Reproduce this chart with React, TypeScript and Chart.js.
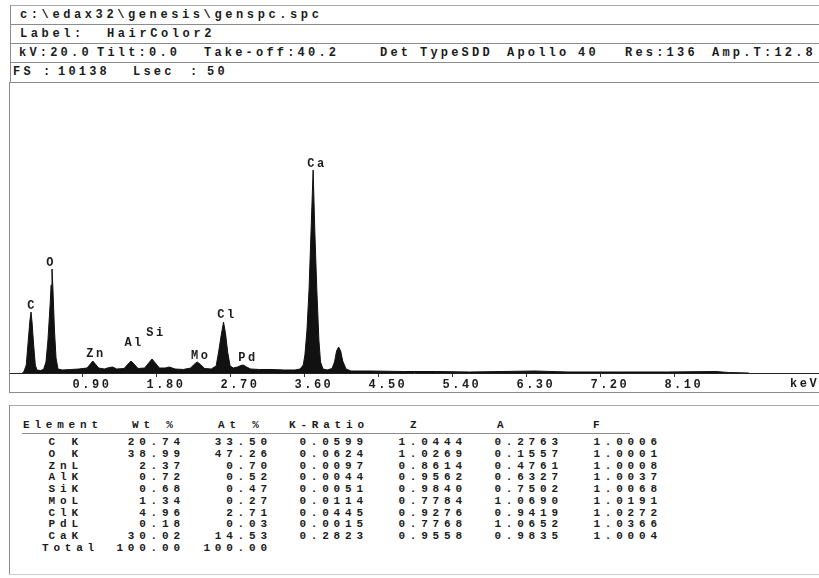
import React, { useEffect, useRef } from "react";
import { Chart, registerables } from "chart.js";

Chart.register(...registerables);

// ---------- data ----------
const fullScale = 10138;
const xMaxKeV = 9.854;

const spectrumKeV = [
  0.16, 0.18, 0.21, 0.23, 0.255, 0.268, 0.28, 0.3, 0.32, 0.34, 0.38, 0.42, 0.45, 0.474, 0.5, 0.512, 0.523,
  0.535, 0.553, 0.572, 0.596, 0.65, 0.75, 0.85, 0.95, 0.99, 1.02, 1.05, 1.09, 1.16, 1.22, 1.26, 1.31, 1.4,
  1.45, 1.485, 1.52, 1.57, 1.65, 1.7, 1.74, 1.78, 1.83, 1.9, 1.95, 2.02, 2.12, 2.21, 2.25, 2.29, 2.33, 2.38,
  2.46, 2.52, 2.55, 2.58, 2.61, 2.635, 2.66, 2.69, 2.73, 2.78, 2.82, 2.85, 2.89, 2.94, 3.05, 3.2, 3.35, 3.48,
  3.54, 3.58, 3.6, 3.625, 3.65, 3.675, 3.7, 3.72, 3.745, 3.77, 3.79, 3.82, 3.87, 3.93, 3.96, 3.985, 4.01,
  4.035, 4.06, 4.1, 4.16, 4.4, 4.8, 5.2, 5.6, 6.0, 6.4, 6.8, 7.4, 8.0, 8.6, 8.75, 9.0,
];
const spectrumCounts = [
  0, 35, 279, 976, 1846, 2125, 1777, 976, 279, 105, 87, 122, 383, 1150, 2369, 3066, 3623,
  2892, 1498, 523, 139, 105, 122, 139, 174, 314, 418, 314, 174, 139, 192, 209, 139, 157,
  314, 418, 314, 157, 174, 348, 488, 348, 174, 174, 209, 139, 122, 174, 296, 383, 296, 157,
  139, 244, 732, 1289, 1777, 1359, 732, 244, 174, 209, 261, 279, 209, 139, 122, 122, 105, 105,
  139, 279, 627, 1498, 2892, 4982, 7072, 4982, 2892, 1150, 383, 139, 105, 157, 383, 766, 906,
  766, 418, 139, 70, 70, 52, 52, 35, 52, 70, 35, 35, 35, 52, 17, 0,
];

const tickValues = [0.9, 1.8, 2.7, 3.6, 4.5, 5.4, 6.3, 7.2, 8.1];

const peakNames = ["C", "O", "Zn", "Al", "Si", "Mo", "Cl", "Pd", "Ca"];
const peakLabelKeV = [0.268, 0.499, 1.046, 1.51, 1.776, 2.32, 2.64, 2.895, 3.735];
const peakLabelCounts = [2334, 3832, 662, 1045, 1411, 592, 2021, 523, 7281];

const tableElements = ["C K", "O K", "ZnL", "AlK", "SiK", "MoL", "ClK", "PdL", "CaK"];
const tableWt = ["20.74", "38.99", "2.37", "0.72", "0.68", "1.34", "4.96", "0.18", "30.02"];
const tableAt = ["33.50", "47.26", "0.70", "0.52", "0.47", "0.27", "2.71", "0.03", "14.53"];
const tableKRatio = ["0.0599", "0.0624", "0.0097", "0.0044", "0.0051", "0.0114", "0.0445", "0.0015", "0.2823"];
const tableZ = ["1.0444", "1.0269", "0.8614", "0.9562", "0.9840", "0.7784", "0.9276", "0.7768", "0.9558"];
const tableA = ["0.2763", "0.1557", "0.4761", "0.6327", "0.7502", "1.0690", "0.9419", "1.0652", "0.9835"];
const tableF = ["1.0006", "1.0001", "1.0008", "1.0037", "1.0068", "1.0191", "1.0272", "1.0366", "1.0004"];
const tableTotal = ["Total", "100.00", "100.00"];

// ---------- styling helpers ----------
const MONO = "'Liberation Mono', 'Courier New', monospace";
const INK = "#1c1c1c";
const LINE = "#8c8c8c";

type TProps = { x: number; y: number; children: React.ReactNode; size?: number; ls?: number; align?: "left" | "right" };
function T({ x, y, children, size = 12, ls = 3.2, align = "left" }: TProps) {
  const style: React.CSSProperties = {
    position: "absolute",
    top: y - 8,
    height: 16,
    lineHeight: "16px",
    fontFamily: MONO,
    fontSize: size,
    fontWeight: "bold",
    letterSpacing: ls,
    color: INK,
    whiteSpace: "pre",
  };
  if (align === "left") style.left = x;
  else style.right = 819 - (x + ls);
  return <span style={style}>{children}</span>;
}

function HLine({ y, x1, x2, color = LINE }: { y: number; x1: number; x2: number; color?: string }) {
  return <div style={{ position: "absolute", left: x1, top: y, width: x2 - x1, height: 1, background: color }} />;
}
function VLine({ x, y1, y2, color = LINE }: { x: number; y1: number; y2: number; color?: string }) {
  return <div style={{ position: "absolute", left: x, top: y1, width: 1, height: y2 - y1, background: color }} />;
}

function Spectrum() {
  const ref = useRef<HTMLCanvasElement | null>(null);
  useEffect(() => {
    if (!ref.current) return;
    const labelPlugin = {
      id: "peakLabels",
      beforeDraw(chart: any) {
        chart.ctx.letterSpacing = "2.5px";
      },
      afterDatasetsDraw(chart: any) {
        const { ctx, scales } = chart;
        ctx.save();
        ctx.font = `bold 12px ${MONO}`;
        ctx.letterSpacing = "2.5px";
        ctx.fillStyle = INK;
        ctx.textAlign = "center";
        ctx.textBaseline = "middle";
        peakNames.forEach((n, i) => {
          const x = scales.x.getPixelForValue(peakLabelKeV[i]);
          const y = scales.y.getPixelForValue(peakLabelCounts[i]);
          ctx.fillText(n, x + 1, y);
        });
        ctx.restore();
      },
    };
    const chart = new Chart(ref.current, {
      type: "line",
      data: {
        datasets: [
          {
            data: spectrumKeV.map((k, i) => ({ x: k, y: spectrumCounts[i] })),
            borderColor: "#111",
            backgroundColor: "#111",
            borderWidth: 1,
            fill: "origin",
            pointRadius: 0,
            tension: 0,
          },
        ],
      },
      options: {
        animation: false,
        responsive: false,
        maintainAspectRatio: false,
        layout: { padding: 0 },
        plugins: { legend: { display: false }, tooltip: { enabled: false } },
        scales: {
          x: {
            type: "linear",
            min: 0,
            max: xMaxKeV,
            afterBuildTicks: (s: any) => {
              s.ticks = tickValues.map((v) => ({ value: v }));
            },
            afterFit: (s: any) => {
              s.height = 19;
            },
            ticks: {
              autoSkip: false,
              maxRotation: 0,
              labelOffset: 9,
              padding: 1,
              color: INK,
              font: { family: MONO, size: 12, weight: "bold" },
              callback: (v: any) => Number(v).toFixed(2),
            },
            grid: { drawOnChartArea: false, drawTicks: true, tickLength: 4, color: "#333" },
            border: { display: true, color: "#222", width: 1 },
          },
          y: { display: false, min: 0, max: fullScale },
        },
      } as any,
      plugins: [labelPlugin],
    });
    return () => chart.destroy();
  }, []);
  return <canvas ref={ref} width={810} height={310} style={{ position: "absolute", left: 9, top: 82, width: 810, height: 310 }} />;
}

const rowY = (i: number) => 442 + i * 11.75;
const TS = 11;
const TL = 4.8;

export default function App() {
  return (
    <div style={{ position: "absolute", left: 0, top: 0, width: 819, height: 578, overflow: "hidden", background: "#fff" }}>
      {/* header box */}
      <HLine y={5} x1={10} x2={819} color="#aaa" />
      <HLine y={24} x1={10} x2={819} />
      <HLine y={43} x1={10} x2={819} />
      <HLine y={62} x1={10} x2={819} />
      <HLine y={82} x1={9} x2={819} />
      <VLine x={10} y1={5} y2={82} />
      <T x={20} y={15} ls={3.6}>{"c:\\edax32\\genesis\\genspc.spc"}</T>
      <T x={20} y={34} ls={3.6}>Label:</T>
      <T x={107} y={34} ls={3.6}>HairColor2</T>
      <T x={19} y={53}>kV:20.0</T>
      <T x={97} y={53}>Tilt:0.0</T>
      <T x={204} y={53}>Take-off:40.2</T>
      <T x={380} y={53}>Det</T>
      <T x={420} y={53}>TypeSDD</T>
      <T x={507} y={53}>Apollo</T>
      <T x={578} y={53}>40</T>
      <T x={625} y={53}>Res:136</T>
      <T x={712} y={53}>Amp.T:12.8</T>
      <T x={13} y={72}>FS</T>
      <T x={43} y={72}>:</T>
      <T x={58} y={72}>10138</T>
      <T x={133} y={72}>Lsec</T>
      <T x={190} y={72}>:</T>
      <T x={207} y={72}>50</T>

      {/* spectrum */}
      <Spectrum />
      <VLine x={9} y1={82} y2={392} />
      <HLine y={392} x1={9} x2={819} />
      <T x={790} y={384} ls={2.5}>keV</T>

      {/* table box */}
      <HLine y={405} x1={9} x2={819} color="#aaa" />
      <VLine x={9} y1={405} y2={574} />
      <HLine y={574} x1={9} x2={819} color="#ccc" />
      <T x={23} y={425} size={TS} ls={TL}>Element</T>
      <T x={132} y={425} size={TS} ls={TL}>Wt %</T>
      <T x={218} y={425} size={TS} ls={TL}>At %</T>
      <T x={289} y={425} size={TS} ls={TL}>K-Ratio</T>
      <T x={410} y={425} size={TS} ls={TL}>Z</T>
      <T x={497} y={425} size={TS} ls={TL}>A</T>
      <T x={593} y={425} size={TS} ls={TL}>F</T>
      <HLine y={433} x1={22} x2={630} />
      {tableElements.map((e, i) => (
        <React.Fragment key={e}>
          <T x={78} y={rowY(i)} size={TS} ls={TL} align="right">{e}</T>
          <T x={180} y={rowY(i)} size={TS} ls={TL} align="right">{tableWt[i]}</T>
          <T x={267} y={rowY(i)} size={TS} ls={TL} align="right">{tableAt[i]}</T>
          <T x={363} y={rowY(i)} size={TS} ls={TL} align="right">{tableKRatio[i]}</T>
          <T x={462} y={rowY(i)} size={TS} ls={TL} align="right">{tableZ[i]}</T>
          <T x={558} y={rowY(i)} size={TS} ls={TL} align="right">{tableA[i]}</T>
          <T x={657} y={rowY(i)} size={TS} ls={TL} align="right">{tableF[i]}</T>
        </React.Fragment>
      ))}
      <T x={42} y={rowY(9)} size={TS} ls={TL}>{tableTotal[0]}</T>
      <T x={180} y={rowY(9)} size={TS} ls={TL} align="right">{tableTotal[1]}</T>
      <T x={267} y={rowY(9)} size={TS} ls={TL} align="right">{tableTotal[2]}</T>
    </div>
  );
}
